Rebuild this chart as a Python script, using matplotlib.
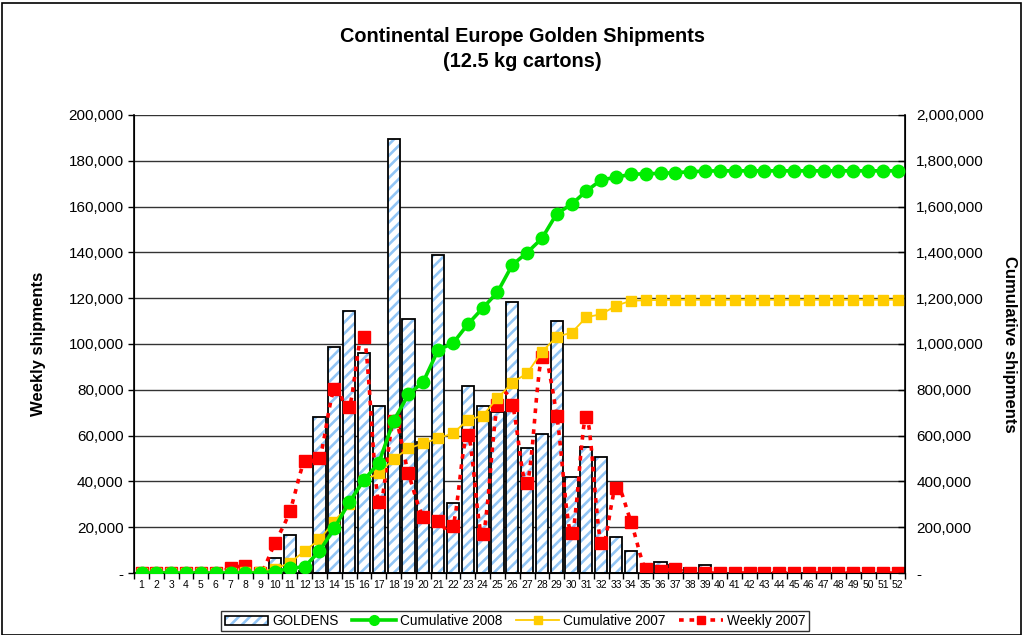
import numpy as np
import matplotlib
matplotlib.use('Agg')
import matplotlib.pyplot as plt
from matplotlib.path import Path
from matplotlib.patches import PathPatch, Patch, Rectangle
from matplotlib.lines import Line2D
from matplotlib.legend_handler import HandlerTuple
from matplotlib.ticker import FuncFormatter, MultipleLocator

'''
data read off the chart
'''
weeks = np.arange(1, 53)
goldens = [0, 0, 0, 0, 0, 0, 0, 0, 0, 6500, 16600, 1000, 68200, 98700, 114500, 96000,
           73000, 189400, 110900, 57300, 138800, 30500, 81600, 73000, 70200, 118200,
           54500, 60600, 110000, 41900, 55000, 50600, 15800, 9700, 0, 4900, 3500, 2000,
           3500, 0, 0, 0, 0, 0, 0, 0, 0, 0, 0, 0, 0, 0]
cum_2008 = [0, 0, 0, 0, 0, 0, 0, 0, 0, 6500, 20500, 27500, 96000, 195000, 309000, 406000,
            481000, 664000, 780000, 835000, 974000, 1003000, 1086000, 1156000, 1226000,
            1345000, 1399000, 1461000, 1569000, 1610000, 1668000, 1716000, 1728000,
            1741000, 1743000, 1745000, 1748000, 1752000, 1755000, 1756000, 1756000,
            1756000, 1756000, 1756000, 1756000, 1756000, 1756000, 1756000, 1756000,
            1756000, 1756000, 1756000]
cum_2007 = [0, 0, 0, 0, 0, 0, 2000, 5000, 5000, 18000, 45000, 96000, 147000, 224000,
            301000, 406000, 435000, 498000, 544000, 566000, 588000, 610000, 668000,
            687000, 763000, 831000, 872000, 966000, 1032000, 1049000, 1117000, 1130000,
            1167000, 1189000, 1191000, 1192000, 1193000, 1193000, 1193000, 1193000,
            1193000, 1193000, 1193000, 1193000, 1193000, 1193000, 1193000, 1193000,
            1193000, 1193000, 1193000, 1193000]
weekly_2007 = [0, 0, 0, 0, 0, 0, 2000, 3000, 0, 13200, 27000, 48900, 50300, 80300, 72600,
               103200, 30900, 66400, 43500, 24600, 22800, 20500, 60300, 16900, 73400,
               73400, 39400, 94200, 68600, 17300, 68000, 13000, 37300, 22400, 1600, 1000,
               1600, 0, 0, 0, 0, 0, 0, 0, 0, 0, 0, 0, 0, 0, 0, 0]

plt.rcParams['font.family'] = ['Liberation Sans', 'DejaVu Sans']
plt.rcParams['hatch.linewidth'] = 1.9

fig = plt.figure(figsize = (10.24, 6.35), dpi = 100)
ax = fig.add_axes([0.131, 0.0976, 0.753, 0.7214])
ax2 = ax.twinx()

# hatched bars, then black outlines on top
ax.bar(weeks, goldens, width = 0.82, color = 'white', edgecolor = '#92c5f5',
       hatch = '///', linewidth = 0, zorder = 2)
ax.bar(weeks, goldens, width = 0.82, fill = False, edgecolor = 'black',
       linewidth = 1.3, zorder = 3)

# smoothed dashed weekly 2007 line (bezier through the points)
pts = np.column_stack([weeks, weekly_2007]).astype(float)
verts = [pts[0]]
codes = [Path.MOVETO]
for i in range(len(pts) - 1):
    p0 = pts[i - 1] if i > 0 else pts[i]
    p1 = pts[i]
    p2 = pts[i + 1]
    p3 = pts[i + 2] if i + 2 < len(pts) else pts[i + 1]
    verts += [p1 + (p2 - p0) / 6.0, p2 - (p3 - p1) / 6.0, p2]
    codes += [Path.CURVE4] * 3
ax.add_patch(PathPatch(Path(verts, codes), fill = False, edgecolor = 'red',
                       linewidth = 2.6, linestyle = (0, (1.3, 1.6)), zorder = 4))
ax.plot(weeks, weekly_2007, 's', color = 'red', markersize = 8, zorder = 5)

ax2.plot(weeks, cum_2007, '-', color = '#ffcc00', linewidth = 1.3, marker = 's',
         markersize = 7.5, zorder = 4)
ax2.plot(weeks, cum_2008, '-', color = '#00dd00', linewidth = 2.6, marker = 'o',
         markerfacecolor = '#00ee00', markeredgecolor = '#00ee00', markersize = 9, zorder = 5)

ax.set_xlim(0.5, 52.5)
ax.set_ylim(0, 200000)
ax2.set_ylim(0, 2000000)
ax.yaxis.set_major_locator(MultipleLocator(20000))
ax2.yaxis.set_major_locator(MultipleLocator(200000))

fmt = FuncFormatter(lambda v, p: '-' if v == 0 else '{:,.0f}'.format(v))
ax.yaxis.set_major_formatter(fmt)
ax2.yaxis.set_major_formatter(fmt)

ax.grid(axis = 'y', color = '#333333', linewidth = 1.0, zorder = 0)
ax.set_axisbelow(True)

ax.set_xticks(weeks)
ax.set_xticklabels([str(w) for w in weeks], fontsize = 7.5)
ax.set_xticks(np.arange(0.5, 53, 1), minor = True)
ax.tick_params(axis = 'x', which = 'major', length = 0, pad = 5)
ax.tick_params(axis = 'x', which = 'minor', length = 4, direction = 'out', width = 1)
ax.tick_params(axis = 'y', labelsize = 11, length = 4, direction = 'out', width = 1)
ax2.tick_params(axis = 'y', labelsize = 11, length = 5, direction = 'in', width = 1, pad = 8)

ax.spines['top'].set_visible(False)
ax2.spines['top'].set_visible(False)
for sp in [ax.spines['left'], ax.spines['bottom'], ax2.spines['right']]:
    sp.set_linewidth(1.2)
    sp.set_color('black')

ax.set_ylabel('Weekly shipments', fontsize = 12, fontweight = 'bold', labelpad = 16)
ax2.set_ylabel('Cumulative shipments', fontsize = 12, fontweight = 'bold',
               rotation = 270, labelpad = 24)

fig.text(0.51, 0.942, 'Continental Europe Golden Shipments', ha = 'center', va = 'center',
         fontsize = 14.3, fontweight = 'bold')
fig.text(0.51, 0.903, '(12.5 kg cartons)', ha = 'center', va = 'center',
         fontsize = 14.3, fontweight = 'bold')

# legend
h_bar = (Patch(facecolor = 'white', edgecolor = '#92c5f5', hatch = '///', linewidth = 0),
         Patch(fill = False, edgecolor = 'black', linewidth = 1.2))
h08 = Line2D([], [], color = '#00dd00', linewidth = 2.6, marker = 'o', markersize = 7,
             markerfacecolor = '#00ee00', markeredgecolor = '#00ee00')
h07 = Line2D([], [], color = '#ffcc00', linewidth = 1.3, marker = 's', markersize = 6)
hw = Line2D([], [], color = 'red', linewidth = 2.6, linestyle = (0, (1.3, 1.6)),
            marker = 's', markersize = 6)
leg = fig.legend([h_bar, h08, h07, hw],
                 ['GOLDENS', 'Cumulative 2008', 'Cumulative 2007', 'Weekly 2007'],
                 handler_map = {tuple: HandlerTuple(ndivide = 1, pad = 0)},
                 loc = 'center', bbox_to_anchor = (0.503, 0.022), ncol = 4, fontsize = 9.8,
                 frameon = True, fancybox = False, edgecolor = 'black',
                 handlelength = 3.2, handletextpad = 0.3, columnspacing = 1.0,
                 borderpad = 0.25)
leg.get_frame().set_linewidth(1.0)

fig.patches.append(Rectangle((0.002, 0.0), 0.995, 0.996, transform = fig.transFigure,
                             fill = False, edgecolor = 'black', linewidth = 1.2))

plt.savefig('out.png', dpi = 100)
